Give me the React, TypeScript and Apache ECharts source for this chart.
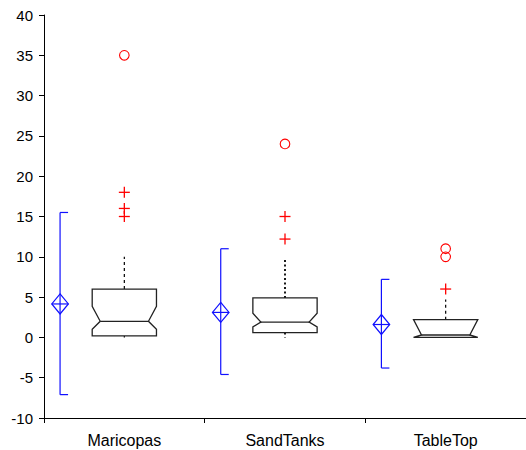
import React, { useEffect, useRef } from "react";
import * as echarts from "echarts";

const categories = ["Maricopas", "SandTanks", "TableTop"];
const whiskerLow = [0, 0, 0];
const q1 = [0.2, 0.6, 0];
const notchLow = [1.0, 1.3, 0];
const median = [2.0, 1.9, 0.3];
const notchHigh = [3.85, 3.0, 2.2];
const q3 = [6.0, 4.9, 2.2];
const whiskerHigh = [10, 9.6, 4.7];
const means = [4.15, 3.1, 1.6];
const sdLow = [-7.1, -4.6, -3.8];
const sdHigh = [15.5, 11.0, 7.2];
const plusOutliers: [number, number][] = [
  [0, 18], [0, 16], [0, 15],
  [1, 15], [1, 12.2],
  [2, 6],
];
const circleOutliers: [number, number][] = [
  [0, 35], [1, 24], [2, 11], [2, 10],
];
const yTicks = { min: -10, max: 40, interval: 5 };

const whiskerDashes = [[3, 3], [2, 2.5], [3, 3]];
const whiskerWidths = [1.2, 1.8, 1.2];
const FONT = "'Liberation Sans', Arial, sans-serif";

export default function App() {
  const ref = useRef<HTMLDivElement>(null);
  useEffect(() => {
    if (!ref.current) return;
    const chart = echarts.init(ref.current, undefined, { renderer: "svg" });
    const boxData = categories.map((_, i) => [
      i, whiskerLow[i], q1[i], notchLow[i], median[i], notchHigh[i], q3[i], whiskerHigh[i],
    ]);
    const meanData = categories.map((_, i) => [i, means[i], sdLow[i], sdHigh[i]]);
    const boxColor = "#222";
    const blue = "#1010ff";
    const red = "#ff0000";
    chart.setOption({
      animation: false,
      grid: { left: 44, right: -2, top: 15, bottom: 32 },
      xAxis: {
        type: "category",
        data: categories,
        axisLine: { onZero: false, lineStyle: { color: "#000", width: 1 } },
        axisTick: { show: true, length: 5, lineStyle: { color: "#000" } },
        axisLabel: { color: "#000", fontSize: 16, fontFamily: FONT, margin: 14 },
        splitLine: { show: false },
      },
      yAxis: {
        type: "value",
        min: yTicks.min,
        max: yTicks.max,
        interval: yTicks.interval,
        axisLine: { show: true, lineStyle: { color: "#000", width: 1 } },
        axisTick: { show: true, length: 5, lineStyle: { color: "#000" } },
        axisLabel: { color: "#000", fontSize: 15, fontFamily: FONT, margin: 11 },
        splitLine: { show: false },
      },
      series: [
        {
          type: "custom",
          data: boxData,
          encode: { x: 0, y: [1, 2, 3, 4, 5, 6, 7] },
          renderItem: (params: any, api: any) => {
            const idx = api.value(0);
            const band = api.size([1, 0])[0];
            const half = band * 0.2;
            const inset = 8;
            const cx = api.coord([idx, 0])[0];
            const y = (v: number) => api.coord([idx, v])[1];
            const wl = api.value(1), bq1 = api.value(2), nl = api.value(3), med = api.value(4),
              nh = api.value(5), bq3 = api.value(6), wh = api.value(7);
            const l = cx - half, r = cx + half;
            const pts = [
              [l, y(bq3)], [r, y(bq3)], [r, y(nh)], [r - inset, y(med)], [r, y(nl)], [r, y(bq1)],
              [l, y(bq1)], [l, y(nl)], [l + inset, y(med)], [l, y(nh)],
            ];
            const dash = whiskerDashes[idx];
            const ww = whiskerWidths[idx];
            const children: any[] = [
              {
                type: "line",
                shape: { x1: cx, y1: y(bq3), x2: cx, y2: y(wh) },
                style: { stroke: "#000", lineWidth: ww, lineDash: dash },
              },
            ];
            if (wl < bq1) {
              children.push({
                type: "line",
                shape: { x1: cx, y1: y(bq1), x2: cx, y2: y(wl) },
                style: { stroke: "#000", lineWidth: ww, lineDash: dash },
              });
            }
            children.push(
              {
                type: "polygon",
                shape: { points: pts },
                style: { fill: "#fff", stroke: boxColor, lineWidth: 1.3 },
              },
              {
                type: "line",
                shape: { x1: l + inset, y1: y(med), x2: r - inset, y2: y(med) },
                style: { stroke: boxColor, lineWidth: 1.3 },
              }
            );
            return { type: "group", children };
          },
        },
        {
          type: "custom",
          data: meanData,
          encode: { x: 0, y: [1, 2, 3] },
          renderItem: (params: any, api: any) => {
            const idx = api.value(0);
            const band = api.size([1, 0])[0];
            const x = api.coord([idx, 0])[0] - band * 0.4;
            const y = (v: number) => api.coord([idx, v])[1];
            const m = y(api.value(1)), lo = y(api.value(2)), hi = y(api.value(3));
            const cap = 8, dw = 8.3, dh = 10;
            const st = { stroke: blue, lineWidth: 1.2 };
            return {
              type: "group",
              children: [
                { type: "line", shape: { x1: x, y1: lo, x2: x, y2: hi }, style: st },
                { type: "line", shape: { x1: x, y1: hi, x2: x + cap, y2: hi }, style: st },
                { type: "line", shape: { x1: x, y1: lo, x2: x + cap, y2: lo }, style: st },
                {
                  type: "polygon",
                  shape: { points: [[x, m - dh], [x + dw, m], [x, m + dh], [x - dw, m]] },
                  style: { fill: "none", stroke: blue, lineWidth: 1.2 },
                },
                { type: "line", shape: { x1: x - dw, y1: m, x2: x + dw, y2: m }, style: st },
              ],
            };
          },
        },
        {
          type: "custom",
          data: plusOutliers,
          encode: { x: 0, y: 1 },
          renderItem: (params: any, api: any) => {
            const p = api.coord([api.value(0), api.value(1)]);
            const s = 5.5;
            const st = { stroke: red, lineWidth: 1.3 };
            return {
              type: "group",
              children: [
                { type: "line", shape: { x1: p[0] - s, y1: p[1], x2: p[0] + s, y2: p[1] }, style: st },
                { type: "line", shape: { x1: p[0], y1: p[1] - s, x2: p[0], y2: p[1] + s }, style: st },
              ],
            };
          },
        },
        {
          type: "custom",
          data: circleOutliers,
          encode: { x: 0, y: 1 },
          renderItem: (params: any, api: any) => {
            const p = api.coord([api.value(0), api.value(1)]);
            return {
              type: "circle",
              shape: { cx: p[0], cy: p[1], r: 4.8 },
              style: { fill: "none", stroke: red, lineWidth: 1.1 },
            };
          },
        },
      ],
    });
    return () => chart.dispose();
  }, []);
  return (
    <div
      ref={ref}
      style={{ position: "fixed", left: 0, top: 0, width: 526, height: 450, background: "#fff" }}
    />
  );
}
